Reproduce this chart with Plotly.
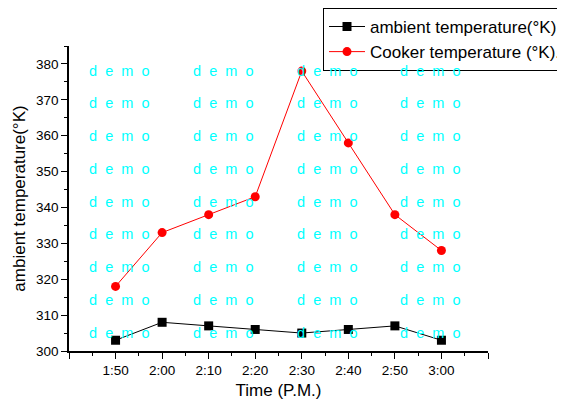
import plotly.graph_objects as go

times = ["1:50", "2:00", "2:10", "2:20", "2:30", "2:40", "2:50", "3:00"]
ambient = [303, 308, 307, 306, 305, 306, 307, 303]
cooker = [318, 333, 338, 343, 378, 358, 338, 328]
y_ticks = [300, 310, 320, 330, 340, 350, 360, 370, 380]

xi = list(range(len(times)))
# the page body has an 8px margin, so the figure is drawn 8px smaller and offset
OFF = 8
W, H = 565 - OFF, 400 - OFF
L, T = 69 - OFF, 46 - OFF
R = W - (488 - OFF)
B = H - (350.7 - OFF)

fig = go.Figure()
fig.add_trace(go.Scatter(
    x=xi, y=ambient, mode="lines+markers", name="ambient temperature(°K)",
    line=dict(color="black", width=1),
    marker=dict(symbol="square", size=9, color="black"),
))
fig.add_trace(go.Scatter(
    x=xi, y=cooker, mode="lines+markers", name="Cooker temperature (°K).",
    line=dict(color="red", width=1),
    marker=dict(symbol="circle", size=9, color="red"),
))

# watermark
pw = W - L - R
ph = H - T - B
col_px = [87, 191, 295, 398]
row_px = [70.7, 103.4, 136.1, 168.8, 201.5, 234.2, 266.9, 299.6, 332.3]
ann = []
for cx in col_px:
    for ry in row_px:
        ann.append(dict(
            text="d\u2007e\u2007m\u2007o", xref="paper", yref="paper",
            x=(cx - OFF - L) / pw, y=(H - B - (ry - OFF)) / ph, xanchor="left", yanchor="middle",
            showarrow=False, font=dict(family="Liberation Sans, Arial", size=14.5, color="#00FFFF"),
        ))

fig.update_layout(
    width=W, height=H,
    margin=dict(l=L, r=R, t=T, b=B, autoexpand=False),
    paper_bgcolor="white", plot_bgcolor="white",
    font=dict(family="Liberation Sans, Arial", color="black"),
    annotations=ann,
    showlegend=True,
    legend=dict(
        x=(323 - OFF - L) / pw, y=(H - B - 0) / ph, xanchor="left", yanchor="top",
        bordercolor="black", borderwidth=1, bgcolor="white",
        font=dict(size=17, family="Liberation Sans, Arial"),
        itemwidth=36, tracegroupgap=0,
    ),
    xaxis=dict(
        range=[-1, len(times)],
        tickmode="array",
        tickvals=[-1] + xi + [len(times)],
        ticktext=[""] + times + [""],
        ticks="outside", ticklen=6, tickwidth=1, tickcolor="black",
        minor=dict(ticks="outside", ticklen=3, tickwidth=1, tickcolor="black", dtick=0.5, tick0=-0.5),
        showline=True, linecolor="black", linewidth=1.5,
        showgrid=False, zeroline=False,
        tickfont=dict(size=13.5),
        title=dict(text="Time (P.M.)", font=dict(size=17), standoff=8),
    ),
    yaxis=dict(
        range=[300, 385],
        tickmode="array", tickvals=y_ticks,
        ticks="outside", ticklen=6, tickwidth=1, tickcolor="black",
        minor=dict(ticks="outside", ticklen=3, tickwidth=1, tickcolor="black", dtick=5, tick0=300),
        showline=True, linecolor="black", linewidth=1.5,
        showgrid=False, zeroline=False,
        tickfont=dict(size=13.5),
        title=dict(text="ambient temperature(°K)", font=dict(size=17), standoff=6),
    ),
)

fig.write_html("out.html")
